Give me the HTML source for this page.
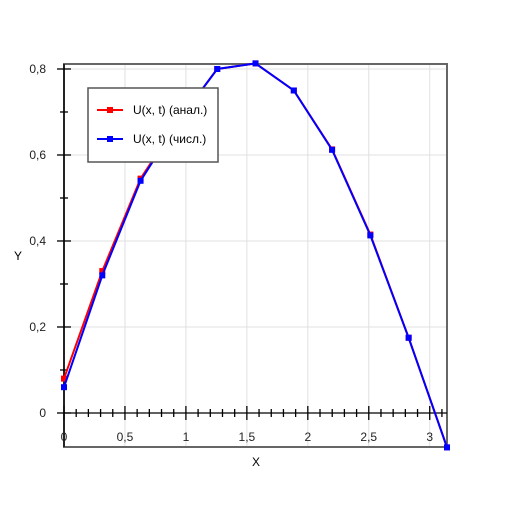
<!DOCTYPE html>
<html><head><meta charset="utf-8"><style>body{margin:0;background:#fff}svg{font-family:"Liberation Sans",sans-serif}</style></head>
<body>
<svg width="512" height="512" id="c"></svg>
<script>
const xs=[0,0.314,0.628,0.942,1.257,1.571,1.885,2.199,2.513,2.827,3.1416];
const anal=[0.08,0.33,0.545,0.68,0.8,0.813,0.75,0.613,0.415,0.175,-0.08];
const num=[0.06,0.32,0.54,0.68,0.8,0.813,0.75,0.612,0.413,0.175,-0.08];
const xTicks=[0,0.5,1,1.5,2,2.5,3];
const xTickLabels=["0","0,5","1","1,5","2","2,5","3"];
const yTicks=[0,0.2,0.4,0.6,0.8];
const yTickLabels=["0","0,2","0,4","0,6","0,8"];
const L=64,R=447,T=64,B=447,xmin=0,xmax=3.1416,ymin=-0.0791,ymax=0.8116;
const sx=v=>L+(v-xmin)/(xmax-xmin)*(R-L);
const sy=v=>B-(v-ymin)/(ymax-ymin)*(B-T);
const svg=document.getElementById('c');const NS='http://www.w3.org/2000/svg';
function mk(t,a,p){const e=document.createElementNS(NS,t);for(const k in a)e.setAttribute(k,a[k]);(p||svg).appendChild(e);return e;}
const g=mk('g',{});


xTicks.forEach(v=>mk('line',{x1:sx(v),x2:sx(v),y1:T,y2:B,stroke:'#e0e0e0'},g));
yTicks.forEach(v=>mk('line',{x1:L,x2:R,y1:sy(v),y2:sy(v),stroke:'#e0e0e0'},g));
const fr=mk('rect',{x:L,y:T,width:R-L,height:B-T,fill:'none',stroke:'#666','stroke-width':2});


const x0=sx(0),y0=sy(0);
const ax=mk('g',{stroke:'#000','stroke-width':1.3});


mk('line',{x1:L,x2:R,y1:y0,y2:y0},ax);mk('line',{x1:x0,x2:x0,y1:T,y2:B},ax);
for(let i=0;i<=31;i++){const v=i*0.1;const maj=i%5==0;mk('line',{x1:sx(v),x2:sx(v),y1:y0-(maj?7:4),y2:y0+(maj?7:4)},ax);}
for(let i=-0;i<=8;i++){const v=i*0.1;const maj=i%2==0;mk('line',{x1:x0-(maj?7:4),x2:x0+(maj?7:4),y1:sy(v),y2:sy(v)},ax);}
xTicks.forEach((v,i)=>{const t=mk('text',{x:sx(v),y:y0+28,'text-anchor':'middle','font-size':12,fill:'#222'});t.textContent=xTickLabels[i];

});
yTicks.forEach((v,i)=>{const t=mk('text',{x:x0-18,y:sy(v)+4,'text-anchor':'end','font-size':12,fill:'#222'});t.textContent=yTickLabels[i];

});
let t=mk('text',{x:256,y:466,'text-anchor':'middle','font-size':12});t.textContent='X';


t=mk('text',{x:18,y:260,'text-anchor':'middle','font-size':12});t.textContent='Y';


function series(ys,col,name){const s=mk('g',{});


mk('polyline',{points:xs.map((x,i)=>sx(x)+','+sy(ys[i])).join(' '),fill:'none',stroke:col,'stroke-width':2},s);
xs.forEach((x,i)=>{const m=mk('rect',{x:sx(x)-3,y:sy(ys[i])-3,width:6,height:6,fill:col},s);

});}
series(anal,'#f00','series-anal');series(num,'#00f','series-num');
const lg=mk('g',{});


mk('rect',{x:88,y:88,width:130,height:74,fill:'#fff',stroke:'#555','stroke-width':1.5},lg);
[['#f00','U(x, t) (анал.)',110],['#00f','U(x, t) (числ.)',139]].forEach(([c,l,y])=>{
mk('line',{x1:97,x2:123,y1:y,y2:y,stroke:c,'stroke-width':2},lg);mk('rect',{x:107,y:y-3,width:6,height:6,fill:c},lg);
const tt=mk('text',{x:133,y:y+4,'font-size':12},lg);tt.textContent=l;

});
</script>
</body></html>
